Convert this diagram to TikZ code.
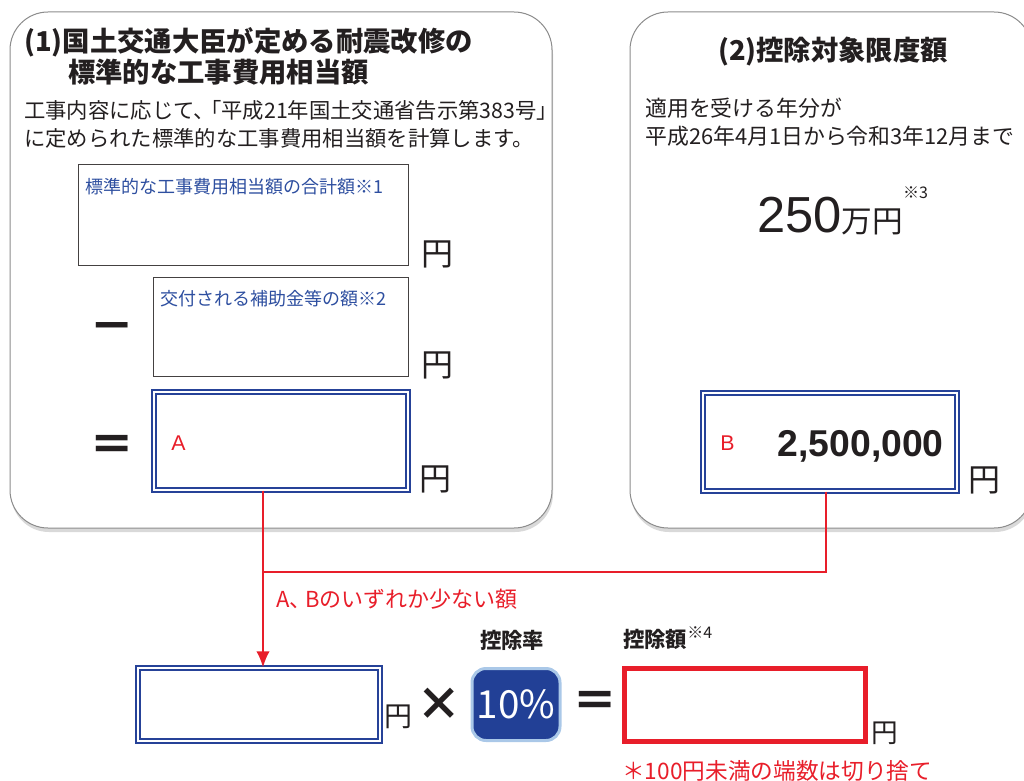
\documentclass[tikz,border=0pt]{standalone}
\usepackage{fontspec}
\setmainfont{Noto Sans CJK JP}
\newfontfamily\latinfont{Liberation Sans}
\usetikzlibrary{positioning,arrows.meta,shadows}
\definecolor{colortext}  {RGB}{35 ,31 ,32 }
\definecolor{colorframe} {RGB}{140,140,140}
\definecolor{colorblue}  {RGB}{38 ,66 ,152}
\definecolor{colorlabel} {RGB}{46 ,79 ,160}
\definecolor{colorred}   {RGB}{232,30 ,42 }
\definecolor{colorrate}  {RGB}{34 ,64 ,150}
\definecolor{colorrim}   {RGB}{170,200,232}
\newdimen\px \px=0.75pt
\newcommand{\fsz}[1]{\fontsize{#1pt}{#1pt}\selectfont}

\begin{document}
\begin{tikzpicture}[
    x=0.75pt, y=-0.75pt,
    font=\fsz{16},
    panel/.style={draw=colorframe,line width=1\px,fill=white,rounded corners=38\px,
        drop shadow={shadow xshift=1\px,shadow yshift=-4\px,opacity=.3}},
    txt/.style={text=colortext,inner sep=0pt},
    head/.style={txt,font=\fsz{20.5}\bfseries},
    entry/.style={draw=colortext!85,line width=1\px,fill=white},
    result/.style={draw=colorblue,line width=1.3\px,double=white,double distance=2.6\px},
    boxlabel/.style={txt,anchor=west,text=colorlabel,font=\fsz{13.5}},
    redtxt/.style={txt,text=colorred},
    yen/.style={txt,anchor=base west,font=\fsz{24}},
    op/.style={txt,font=\fsz{34}\bfseries},
    rate/.style={fill=colorrate,draw=colorrim,line width=3\px,rounded corners=14\px,
        text=white,font=\fsz{29},minimum width=88\px,minimum height=72\px},
    link/.style={draw=colorred,line width=1.8\px},
]
    \useasboundingbox (0,0) rectangle (1024,781);

    % Panels
    \draw[panel] (10,12) rectangle (552,528);
    \draw[panel] (630,12) rectangle (1032,528);

    % Left panel
    \node[head,anchor=west] (head1)  at (24,42) {(1)国土交通大臣が定める耐震改修の};
    \node[head,anchor=west] (head1b) at (68,72) {標準的な工事費用相当額};
    \node[txt,anchor=west]  (intro1) at (24,110) {工事内容に応じて、\kern-.7em「平成21年国土交通省告示第383号」};
    \node[txt,anchor=west]  (intro2) at (24,138) {に定められた標準的な工事費用相当額を計算します。};

    \node[entry,minimum width=330\px,minimum height=100\px] (total) at (243,215) {};
    \node[boxlabel] (totaltxt) at ([shift={(8,22)}]total.north west) {標準的な工事費用相当額の合計額※1};
    \node[yen] (yen1) at ([xshift=13\px]total.south east) {円};

    \node[entry,minimum width=255\px,minimum height=99\px] (grant) at (280.5,326.5) {};
    \node[boxlabel] (granttxt) at ([shift={(8,22)}]grant.north west) {交付される補助金等の額※2};
    \node[yen] (yen2) at ([xshift=13\px]grant.south east) {円};
    \node[op] (minus) at (112,333) {－};

    \node[result,minimum width=254\px,minimum height=98\px] (diff) at (281,441) {};
    \node[redtxt,anchor=west,font=\fsz{16}\latinfont] (difftxt) at (171,443) {A};
    \node[yen] (yen3) at ([xshift=11\px]diff.south east) {円};
    \node[op] (equal1) at (112,448) {＝};

    % Right panel
    \node[head] (head2) at (833,52) {(2)控除対象限度額};
    \node[txt,anchor=west,font=\fsz{16.4}] (term1) at (645,108) {適用を受ける年分が};
    \node[txt,anchor=west,font=\fsz{16.4}] (term2) at (645,136) {平成26年4月1日から令和3年12月まで};
    \node[txt,anchor=base west] (limit) at (757,232)
        {{\fsz{38}\latinfont 250}{\fsz{23}万円}\raisebox{25pt}{\fsz{12}※3}};

    \node[result,minimum width=254\px,minimum height=98\px] (cap) at (830,442) {};
    \node[redtxt,anchor=west,font=\fsz{16}\latinfont] (captxt) at (720,443) {B};
    \node[txt,anchor=east,font=\fsz{28}\latinfont\bfseries] (capval) at (944,446) {2,500,000};
    \node[yen] (yen4) at ([xshift=11\px]cap.south east) {円};

    % Bottom row
    \node[result,minimum width=242\px,minimum height=73\px] (lesser) at (259,704.5) {};
    \node[yen,font=\fsz{21}] (yen5) at ([xshift=4\px,yshift=15\px]lesser.south east) {円};
    \node[op] (times) at (439,704) {×};
    \node[rate] (ratebox) at (516,704.5) {10\%};
    \node[txt,font=\fsz{16}\bfseries] (ratetxt) at (512,640) {控除率};
    \node[op] (equal2) at (595,704) {＝};
    \node[draw=colorred,line width=5\px,minimum width=241\px,minimum height=73\px] (credit) at (745,705) {};
    \node[yen,font=\fsz{20}] (yen6) at ([xshift=3\px,yshift=2\px]credit.south east) {円};
    \node[txt,anchor=west,font=\fsz{16}\bfseries] (credittxt) at (623,638)
        {控除額\raisebox{7pt}{\fsz{12}\mdseries ※4}};
    \node[redtxt,anchor=west,font=\fsz{17}] (note) at (622,771) {＊100円未満の端数は切り捨て};

    % Arrows
    \coordinate (join) at (263,572);
    \draw[link] ([xshift=-4\px]cap.south) |- (join);
    \draw[link,-{Latex[length=12pt,width=10pt]}] (diff.south -| join) -- (lesser.north -| join);
    \node[redtxt,anchor=west,font=\fsz{16.5}] (linktxt) at (276,599) {A、\kern-.3em Bのいずれか少ない額};

\end{tikzpicture}
\end{document}
